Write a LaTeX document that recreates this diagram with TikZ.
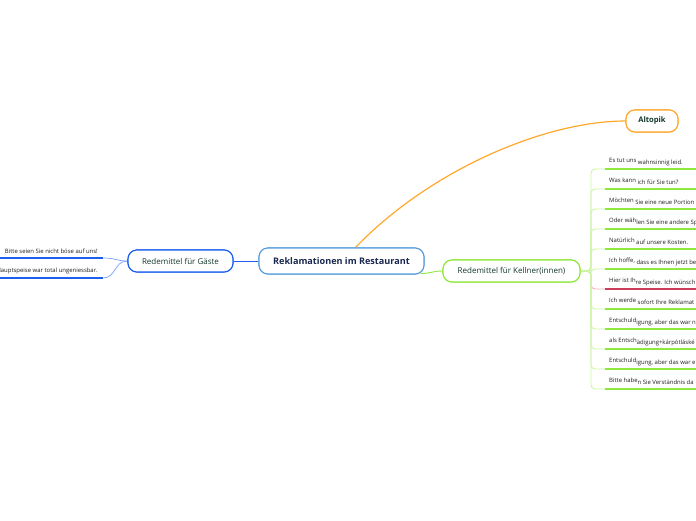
\documentclass[tikz,border=0pt]{standalone}
\usepackage{fontspec}
\setmainfont{Open Sans}
\definecolor{cblue}{RGB}{90,160,220}
\definecolor{nblue}{RGB}{30,95,240}
\definecolor{lblue}{RGB}{120,160,250}
\definecolor{ngreen}{RGB}{145,232,60}
\definecolor{lgreen}{RGB}{205,245,165}
\definecolor{nred}{RGB}{205,60,90}
\definecolor{lred}{RGB}{240,175,190}
\definecolor{norange}{RGB}{255,168,45}
\definecolor{tnavy}{RGB}{25,40,80}
\definecolor{tgreen}{RGB}{20,55,45}
\definecolor{tgray}{RGB}{30,30,30}
\tikzset{
  topic/.style={draw, fill=white, rounded corners=9pt, line width=1.1pt, inner sep=0pt,
    minimum height=22pt, text=tgreen, font=\fontsize{8}{9}\selectfont},
  centraltopic/.style={topic, draw=cblue, minimum height=26pt, minimum width=165pt,
    text=tnavy, font=\bfseries\fontsize{9.1}{10}\selectfont},
  leaf/.style={inner sep=0pt, text=tgray, font=\fontsize{5.95}{7}\selectfont},
  gconn/.style={draw=lgreen, line width=0.9pt, rounded corners=4pt},
  gline/.style={draw=ngreen, line width=1.8pt},
  rconn/.style={draw=lred, line width=0.9pt, rounded corners=4pt},
  rline/.style={draw=nred, line width=1.8pt},
  bconn/.style={draw=lblue, line width=0.7pt},
  bline/.style={draw=nblue, line width=1.8pt},
}
\newcommand\rleaf[5]{%
  \coordinate (u#1) at (605,#2);
  \draw[#5conn] (k.east) -- (trunk) |- (u#1);
  \draw[#5line] (u#1) -- ++(100,0) coordinate (e#1);
  \node[leaf, anchor=base west] (t#1) at (609,#2-6.5) {#3\raisebox{-1.6pt}{#4}};
}
\begin{document}
\begin{tikzpicture}[x=1pt,y=-1pt]
\useasboundingbox (0,0) rectangle (696,520);
\clip (0,0) rectangle (696,520);
\fill[white] (0,0) rectangle (696,520);

\coordinate (trunk) at (591,271);
\node[centraltopic] (c) at (341.5,261) {Reklamationen im Restaurant};
\node[topic, draw=nblue, minimum width=105pt] (g) at (180.5,261) {Redemittel für Gäste};
\node[topic, draw=ngreen, minimum width=137pt] (k) at (511.5,271) {Redemittel für Kellner(innen)};
\node[topic, draw=norange, minimum width=52pt, font=\bfseries\fontsize{7.6}{9}\selectfont] (a) at (652,121) {Altopik};

% main connectors
\draw[draw=nblue, line width=0.9pt] (c.west) -- (g.east);
\draw[draw=ngreen, line width=0.9pt] ([xshift=-4pt,yshift=1pt]c.south east) .. controls +(10,0) and +(-10,0) .. (k.west);
\draw[draw=norange, line width=1.2pt] ([xshift=14pt]c.north) .. controls (430,170) and (545,121) .. (a.west);

% right leaves
\rleaf{1}{169}{Es tut uns }{wahnsinnig leid.}{g}
\rleaf{2}{189}{Was kann }{ich für Sie tun?}{g}
\rleaf{3}{209}{Möchten }{Sie eine neue Portion}{g}
\rleaf{4}{229}{Oder wäh}{len Sie eine andere Sp}{g}
\rleaf{5}{249}{Natürlich }{auf unsere Kosten.}{g}
\rleaf{6}{269}{Ich hoffe, }{dass es Ihnen jetzt be}{g}
\rleaf{7}{289}{Hier ist Ih}{re Speise. Ich wünsch}{r}
\rleaf{8}{309}{Ich werde }{sofort Ihre Reklamat}{g}
\rleaf{9}{329}{Entschuld}{igung, aber das war n}{g}
\rleaf{10}{349}{als Entsch}{ädigung+kárpótláské}{g}
\rleaf{11}{369}{Entschuld}{igung, aber das war e}{g}
\rleaf{12}{389}{Bitte habe}{n Sie Verständnis da}{g}

% left leaves
\coordinate (ls1) at (-5,258);
\coordinate (le1) at (103,258);
\coordinate (ls2) at (-5,278);
\coordinate (le2) at (103,278);
\draw[bline] (ls1) -- (le1);
\draw[bline] (ls2) -- (le2);
\draw[bconn] (le1) .. controls (116,258) and (116,261) .. (g.west);
\draw[bconn] (le2) .. controls (116,278) and (114,261) .. (g.west);
\node[leaf, anchor=base east] (l1) at (98,253.5) {Bitte seien Sie nicht böse auf uns!};
\node[leaf, anchor=base east] (l2) at (98,272.5) {Die Hauptspeise war total ungeniessbar.};

% redraw nodes on top
\node[centraltopic] at (c) {Reklamationen im Restaurant};
\node[topic, draw=nblue, minimum width=105pt] at (g) {Redemittel für Gäste};
\node[topic, draw=ngreen, minimum width=137pt] at (k) {Redemittel für Kellner(innen)};
\node[topic, draw=norange, minimum width=52pt, font=\bfseries\fontsize{7.6}{9}\selectfont] at (a) {Altopik};
\end{tikzpicture}
\end{document}
